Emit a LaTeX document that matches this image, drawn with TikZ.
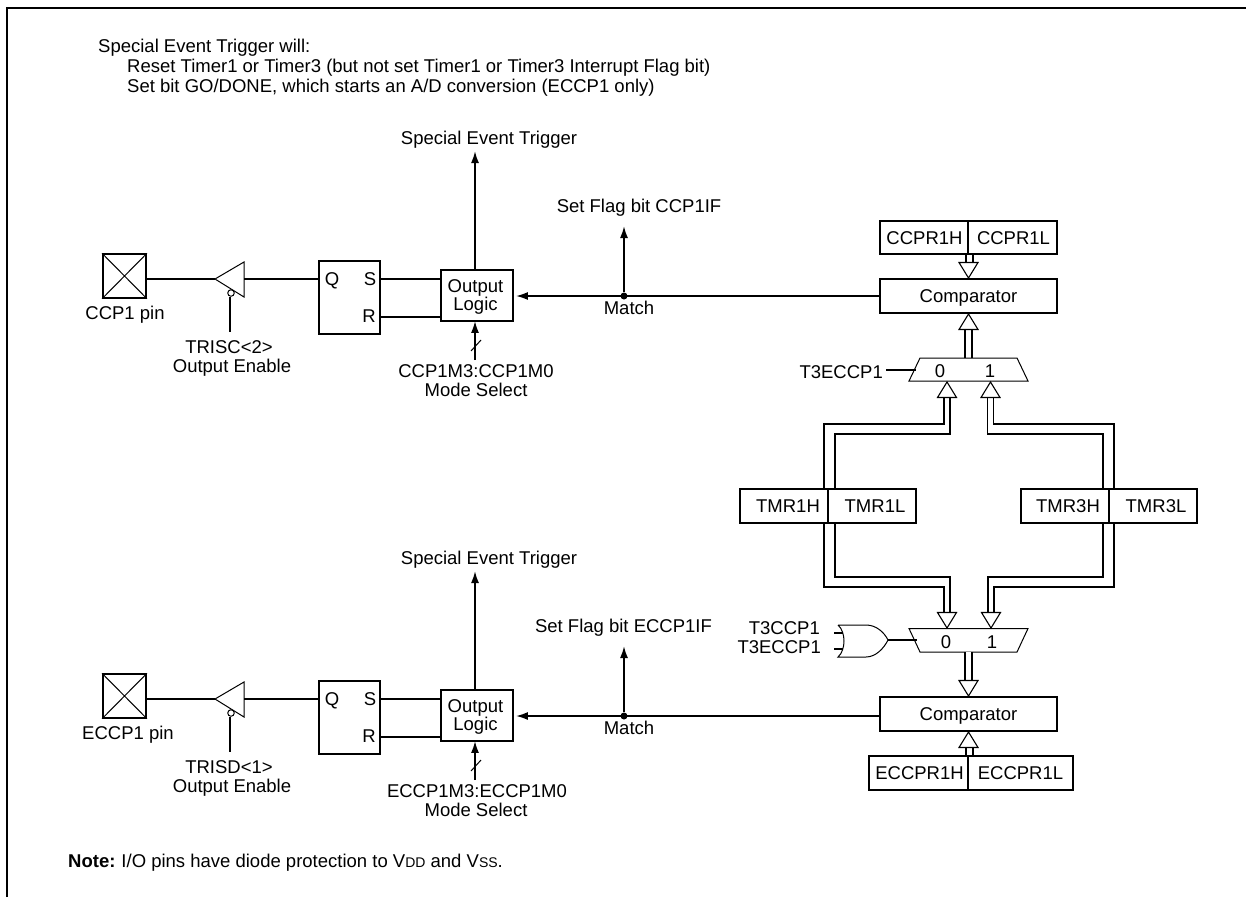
\documentclass[tikz,border=0pt]{standalone}
\usepackage{fontspec}
\setmainfont{Liberation Sans}
\usetikzlibrary{arrows.meta,calc}
\tikzset{
  wire/.style={line width=1.8pt,line cap=butt},
  thinwire/.style={line width=1pt,line join=miter},
  arrowwire/.style={wire,-{Latex[length=12pt,width=8pt]}},
  lbl/.style={inner sep=0pt,anchor=base,font=\fontsize{18.5}{20}\selectfont},
  lft/.style={lbl,anchor=base west},
  rgt/.style={lbl,anchor=base east},
  box/.style={draw,line width=1.8pt,inner sep=0pt,font=\fontsize{18.5}{20}\selectfont,text height=13.2pt,text depth=0pt},
  bus/.style={draw=black,line width=1.6pt,double=white,double distance=5.6pt},
  buswire/.style={line width=1.7pt,line join=miter},
  hd/.style={draw,fill=white,line width=1.1pt,line join=miter},
  jn/.style={circle,fill=black,inner sep=0pt,minimum size=7pt}
}
\newcommand{\headup}[1]{\draw[hd] (#1) -- ++(-9.5,15.5) -- ++(19,0) -- cycle;}
\newcommand{\headdn}[1]{\draw[hd] (#1) -- ++(-9.5,-15.5) -- ++(19,0) -- cycle;}
\newcommand{\channel}[7]{%
  \begin{scope}[yshift=-#1pt]
  \node[box,minimum width=43pt,minimum height=43.5pt] (#2pin) at (124.5,276) {};
  \draw[line width=1pt] (#2pin.north west) -- (#2pin.south east) (#2pin.north east) -- (#2pin.south west);
  \node[lbl] (#2pinl) at (#3,319.5) {#4};
  \coordinate (#2tip) at (215,279);
  \coordinate (#2bt) at (244,262);
  \coordinate (#2bb) at (244,297);
  \coordinate (#2bm) at (244,279);
  \draw[thinwire] (#2tip) -- (#2bt) -- (#2bb) -- cycle;
  \node[circle,draw,fill=white,line width=1pt,inner sep=0pt,minimum size=6.5pt] (#2inv) at (231,293) {};
  \coordinate (#2en) at (230,332);
  \draw[wire] (#2inv.south -| #2en) -- (#2en);
  \draw[wire] (#2pin.east |- #2tip) -- (#2tip);
  \node[box,minimum width=61pt,minimum height=73pt] (#2sr) at (349.5,297.5) {};
  \draw[wire] (#2bm) -- (#2sr.west |- #2bm);
  \node[lbl] (#2q) at (332,285) {Q};
  \node[lbl] (#2s) at (370,285) {S};
  \node[lbl] (#2r) at (369,322) {R};
  \node[box,minimum width=72pt,minimum height=51pt] (#2ol) at (477,295.5) {};
  \node[lbl] (#2out) at (475.5,292) {Output};
  \node[lbl] (#2log) at (475.5,310) {Logic};
  \draw[wire] (#2sr.east |- #2bm) -- (#2ol.west |- #2bm);
  \draw[wire] (#2sr.east |- 0,317) -- (#2ol.west |- 0,317);
  \coordinate (#2set) at (475,151);
  \draw[arrowwire] (#2ol.north -| #2set) -- (#2set);
  \node[lbl] (#2setl) at (489,144.5) {Special Event Trigger};
  \coordinate (#2ms) at (475,360);
  \draw[arrowwire] (#2ms) -- ($(#2ol.south -| #2ms)+(0,-1)$);
  \draw[line width=1pt] (471,351) -- (481,340);
  \node[lbl] (#2msl) at (#6,377) {#7};
  \node[lbl] (#2msm) at (476,396) {Mode Select};
  \node[lbl] (#2enl) at (229,353) {#5};
  \node[lbl] (#2eno) at (232,372) {Output Enable};
  \node[jn] (#2dot) at (624,296) {};
  \coordinate (#2fl) at (624,226);
  \draw[arrowwire] (#2dot) -- (#2fl);
  \node[lbl] (#2mat) at (629,314) {Match};
  \end{scope}}
\begin{document}
\begin{tikzpicture}[x=1pt,y=-1pt]
\useasboundingbox (0,0) rectangle (1246,897);
\coordinate (fa) at (7,897);
\coordinate (fb) at (7,8);
\coordinate (fc) at (1246,8);
\draw[line width=2pt] (fa) -- (fb) -- (fc);

\node[lft] (t1) at (98,52) {Special Event Trigger will:};
\node[lft] (t2) at (127,72) {Reset Timer1 or Timer3 (but not set Timer1 or Timer3 Interrupt Flag bit)};
\node[lft] (t3) at (127,92) {Set bit GO/DONE, which starts an A/D conversion (ECCP1 only)};

\channel{0}{a}{125}{CCP1 pin}{TRISC<2>}{476}{CCP1M3:CCP1M0}
\channel{420}{b}{128}{ECCP1 pin}{TRISD<1>}{477}{ECCP1M3:ECCP1M0}

\node[lbl] (aflag) at (639,212) {Set Flag bit CCP1IF};
\node[lbl] (bflag) at (623.5,632) {Set Flag bit ECCP1IF};

% upper registers and comparator
\node[box,minimum width=88pt,minimum height=33pt] (ch) at (924,237.5) {\hspace*{1pt}CCPR1H};
\node[box,minimum width=89pt,minimum height=33pt] (cl) at (1012.5,237.5) {\hspace*{2pt}CCPR1L};
\node[box,minimum width=177pt,minimum height=34pt] (cmpa) at (968.5,296) {Comparator};
\draw[arrowwire] (cmpa.west) -- ($(aol.east |- adot)+(2,0)$);
\draw[bus] ($(ch.south east)+(0.5,0)$) -- ++(0,11);
\coordinate (cmpatip) at (968.5,278);
\headdn{cmpatip}

% upper mux
\coordinate (mat) at (920,358);
\coordinate (mbt) at (1017,358);
\coordinate (mcb) at (1028,381);
\coordinate (mdb) at (909,381);
\draw[bus] (968.5,358) -- (968.5,329);
\coordinate (cmpbt) at (968.5,314);
\headup{cmpbt}
\draw[thinwire] (mat) -- (mbt) -- (mcb) -- (mdb) -- cycle;
\node[lbl] (ma0) at (940,377) {0};
\node[lbl] (ma1) at (990,377) {1};
\node[rgt] (t3e) at (883,378) {T3ECCP1};
\coordinate (maw) at (915.5,370);
\draw[wire] ($(t3e.base east)+(3,-8)$) -- (maw);

% timers
\node[box,minimum width=88pt,minimum height=34pt] (t1h) at (784,506) {\hspace*{8pt}TMR1H};
\node[box,minimum width=88pt,minimum height=34pt] (t1l) at (872,506) {\hspace*{6pt}TMR1L};
\node[box,minimum width=88pt,minimum height=34pt] (t3h) at (1065,506) {\hspace*{6pt}TMR3H};
\node[box,minimum width=88pt,minimum height=34pt] (t3l) at (1153,506) {\hspace*{6pt}TMR3L};

\coordinate (upl) at (947,382);
\coordinate (upr) at (990.5,382);
\coordinate (dnl) at (947,628);
\coordinate (dnr) at (991,628);
% upper buses
\draw[buswire] ($(t1h.north east)+(-5,0)$) -- ++(0,-64) -| (944,398);
\draw[buswire] ($(t1h.north east)+(6,0)$) -- ++(0,-54) -| (950,398);
\draw[buswire] ($(t3h.north east)+(4,0)$) -- ++(0,-64) -| (993.5,398);
\draw[buswire] ($(t3h.north east)+(-7,0)$) -- ++(0,-54) -| (987.5,398);
% lower buses
\draw[buswire] ($(t1h.south east)+(-5,0)$) -- ++(0,63) -| (944,613);
\draw[buswire] ($(t1h.south east)+(6,0)$) -- ++(0,53) -| (950,613);
\draw[buswire] ($(t3h.south east)+(4,0)$) -- ++(0,63) -| (994,613);
\draw[buswire] ($(t3h.south east)+(-7,0)$) -- ++(0,53) -| (988,613);
\headup{upl}
\headup{upr}
\headdn{dnl}
\headdn{dnr}

% lower mux
\coordinate (mbat) at (909,628.5);
\coordinate (mbbt) at (1028,628.5);
\coordinate (mbcb) at (1017,652);
\coordinate (mbdb) at (920,652);
\draw[thinwire] (mbat) -- (mbbt) -- (mbcb) -- (mbdb) -- cycle;
\node[lbl] (mb0) at (946,648) {0};
\node[lbl] (mb1) at (992,648) {1};

% OR gate
\coordinate (ortip) at (888,640);
\coordinate (ortl) at (838,625);
\coordinate (orbl) at (838,657);
\draw[line width=1pt] (ortl) -- (866,625) .. controls (876,625) and (884,632) .. (ortip)
   .. controls (884,648) and (876,657) .. (866,657) -- (orbl)
   .. controls (846,650) and (846,632) .. (ortl);
\coordinate (orw) at (917,640);
\draw[wire] (ortip) -- (orw);
\coordinate (ori1) at (834,633);
\coordinate (ori2) at (834,649);
\draw[wire] (ori1) -- ++(9,0);
\draw[wire] (ori2) -- ++(9,0);
\node[rgt] (lt3c) at (820,634) {T3CCP1};
\node[rgt] (lt3e) at (821,653) {T3ECCP1};

% lower comparator and registers
\node[box,minimum width=177pt,minimum height=34pt] (cmpb) at (968.5,714) {Comparator};
\draw[arrowwire] (cmpb.west |- bdot) -- ($(bol.east |- bdot)+(2,0)$);
\draw[bus] (968.5,652) -- (968.5,681);
\coordinate (cbtop) at (968.5,696);
\headdn{cbtop}
\node[box,minimum width=99pt,minimum height=34pt] (eh) at (918.5,773) {\hspace*{2pt}ECCPR1H};
\node[box,minimum width=105pt,minimum height=34pt] (el) at (1020.5,773) {ECCPR1L};
\draw[bus] ($(eh.north east)+(0.5,0)$) -- ++(0,-9);
\coordinate (cbbot) at (968.5,732);
\headup{cbbot}

\node[lft] (note) at (68,867) {\textbf{Note:}\hspace{6pt}I/O pins have diode protection to V{\fontsize{14}{16}\selectfont DD} and V{\fontsize{14}{16}\selectfont SS}.};
\end{tikzpicture}
\end{document}
